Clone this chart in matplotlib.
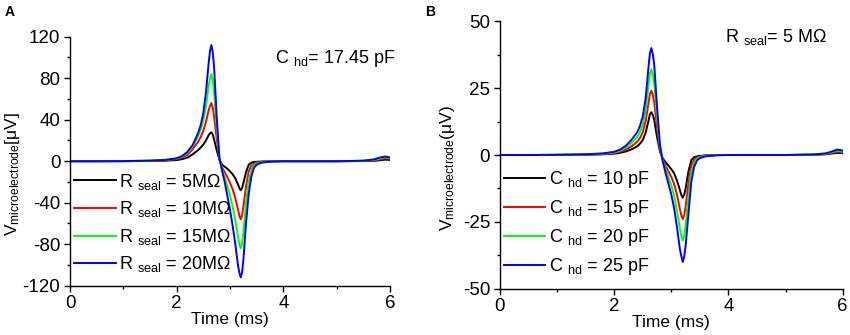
import matplotlib
matplotlib.use("Agg")
import matplotlib.pyplot as plt
from matplotlib.ticker import MultipleLocator

plt.rcParams['font.family'] = ['Liberation Sans', 'DejaVu Sans']
plt.rcParams['mathtext.fontset'] = 'custom'
plt.rcParams['mathtext.rm'] = 'Liberation Sans'
plt.rcParams['mathtext.it'] = 'Liberation Sans:italic'
plt.rcParams['mathtext.bf'] = 'Liberation Sans:bold'
plt.rcParams['axes.unicode_minus'] = False

# ---- data ----
time_ms = [0, 0.5, 1.0, 1.5, 1.8, 2.0, 2.1, 2.2, 2.3, 2.4,
           2.45, 2.5, 2.55, 2.6, 2.625, 2.65, 2.675, 2.7, 2.75, 2.8,
           2.85, 2.9, 2.95, 3.0, 3.05, 3.1, 3.15, 3.175, 3.2, 3.225,
           3.25, 3.3, 3.35, 3.4, 3.45, 3.5, 3.55, 3.6, 3.7, 3.8,
           4.0, 4.5, 5.0, 5.5, 5.7, 5.8, 5.85, 5.9, 5.95, 6.0]

# Panel A: R_seal varied (C_hd = 17.45 pF)
a_labels = ['5MΩ', '10MΩ', '15MΩ', '20MΩ']
a_rseal5 = [0, 0, 0.06, 0.2, 0.56, 1.1, 2.0, 3.4, 6.7, 10.6,
            13.2, 16.2, 20.2, 25.2, 26.9, 28, 25.8, 21, 10.6, 1.4,
            -3.4, -5.3, -7.3, -9.8, -12.6, -16.8, -22.4, -26, -28, -26,
            -21, -10.6, -3.4, -1.4, -0.8, -0.6, -0.4, -0.3, -0.15, 0,
            0, 0, 0, 0.15, 0.4, 0.8, 1.2, 1.5, 1.4, 1.2]
a_rseal10 = [0, 0, 0.1, 0.35, 0.95, 2.0, 3.5, 6.0, 11.6, 18.7,
             23.4, 29.5, 38.1, 49.4, 53.5, 56, 52, 43.3, 21.3, 2.4,
             -6.0, -10.5, -15.3, -20.9, -27.3, -35.8, -46.6, -52.6, -56, -52.6,
             -43.8, -24.1, -9.7, -4.3, -2.1, -1.3, -0.95, -0.6, -0.3, -0.05,
             0, 0, 0, 0.3, 0.85, 1.7, 2.2, 2.7, 2.6, 2.2]
a_rseal15 = [0, 0, 0.1, 0.5, 1.3, 2.5, 4.5, 7.8, 14.5, 24.1,
             30.5, 39.7, 53.8, 72.8, 79.8, 84, 78.5, 67.0, 31.9, 3.1,
             -7.8, -15.4, -24.1, -33.3, -43.9, -57.1, -72.8, -79.8, -84, -79.8,
             -68.6, -40.3, -19.1, -8.7, -3.9, -2.3, -1.5, -0.9, -0.5, -0.2,
             0, 0, 0, 0.4, 1.3, 2.5, 3.2, 3.8, 3.5, 2.9]
a_rseal20 = [0, 0, 0.1, 0.56, 1.3, 2.8, 5.0, 9.0, 15.7, 26.9,
             34.7, 47.0, 67.2, 95.2, 106.4, 112, 105.3, 91.8, 42.6, 3.4,
             -9.0, -20.2, -33.6, -47.0, -62.7, -80.6, -100.8, -107.5, -112, -107.5,
             -95.2, -59.4, -31.4, -14.6, -6.2, -3.4, -2.2, -1.3, -0.7, -0.3,
             0, 0, 0, 0.5, 1.7, 3.4, 3.9, 4.5, 4.3, 3.4]

# Panel B: C_hd varied (R_seal = 5 MOhm)
b_labels = ['10 pF', '15 pF', '20 pF', '25 pF']
b_chd10 = [0, 0, 0.03, 0.1, 0.24, 0.5, 0.8, 1.3, 2.1, 3.2,
           4.2, 5.6, 8.3, 12.8, 15.2, 16, 15.0, 13.1, 6.7, 1.3,
           -1.3, -2.7, -4.0, -5.3, -6.9, -9.6, -13.1, -15.0, -16, -14.9,
           -12.5, -6.1, -1.9, -0.8, -0.5, -0.3, -0.25, -0.15, -0.08, 0,
           0, 0, 0, 0.08, 0.25, 0.5, 0.65, 0.8, 0.75, 0.65]
b_chd15 = [0, 0, 0.05, 0.15, 0.36, 0.7, 1.2, 2.0, 3.2, 4.9,
           6.3, 8.5, 12.6, 19.4, 22.8, 24, 22.6, 19.9, 10.3, 2.1,
           -1.8, -4.1, -6.2, -8.2, -10.9, -15.0, -20.2, -22.6, -24, -22.5,
           -19.3, -10.5, -3.9, -1.7, -0.9, -0.55, -0.4, -0.26, -0.12, -0.02,
           0, 0, 0, 0.12, 0.36, 0.72, 0.96, 1.2, 1.15, 0.96]
b_chd20 = [0, 0, 0.06, 0.2, 0.48, 0.96, 1.6, 2.7, 4.4, 6.6,
           8.5, 11.4, 16.9, 26.0, 30.4, 32, 30.2, 26.9, 14.1, 3.0,
           -2.1, -5.4, -8.4, -11.4, -15.3, -20.9, -27.5, -30.2, -32, -30.2,
           -26.5, -15.8, -6.6, -2.9, -1.4, -0.86, -0.58, -0.35, -0.19, -0.06,
           0, 0, 0, 0.16, 0.48, 0.96, 1.28, 1.6, 1.5, 1.28]
b_chd25 = [0, 0, 0.08, 0.25, 0.6, 1.2, 2.0, 3.4, 5.6, 8.4,
           10.8, 14.4, 21.2, 32.8, 38, 40, 37.8, 34, 18, 4,
           -2.4, -6.8, -10.8, -14.8, -20, -27.2, -35.2, -37.8, -40, -38,
           -34, -22, -10, -4.4, -2, -1.2, -0.8, -0.5, -0.25, -0.1,
           0, 0, 0, 0.2, 0.6, 1.2, 1.6, 2.0, 1.9, 1.6]

colors = ['#000000', '#ff0000', '#00ff00', '#0000ff']

fig = plt.figure(figsize=(8.5, 3.35), dpi=100)
axA = fig.add_axes([0.0824, 0.1472, 0.3765, 0.7432])
axB = fig.add_axes([0.5882, 0.1382, 0.4032, 0.7982])

FS = 12.5
TFS = 13.5
LFS = 13


def style(ax):
    for s in ['top', 'right']:
        ax.spines[s].set_visible(False)
    for s in ['left', 'bottom']:
        ax.spines[s].set_linewidth(1.0)
    ax.tick_params(which='major', direction='out', length=4.5, width=1.0,
                   labelsize=TFS, pad=2.5)
    ax.tick_params(which='minor', direction='out', length=2.5, width=1.0)
    ax.set_xlim(0, 6)
    ax.xaxis.set_major_locator(MultipleLocator(2))
    ax.xaxis.set_minor_locator(MultipleLocator(1))
    ax.set_xlabel('Time (ms)', fontsize=FS, labelpad=0)


# Panel A
style(axA)
for vals, lab, c in zip([a_rseal5, a_rseal10, a_rseal15, a_rseal20], a_labels, colors):
    axA.plot(time_ms, vals, color=c, lw=1.4,
             label=r'R $_{\mathregular{seal}}$ = ' + lab)
axA.set_ylim(-120, 120)
axA.yaxis.set_major_locator(MultipleLocator(40))
axA.yaxis.set_minor_locator(MultipleLocator(20))
axA.set_ylabel(r'V$_{\mathregular{microelectrode}}$[μV]', fontsize=FS)
axA.yaxis.set_label_coords(-0.15, 0.45)
axA.legend(loc='lower left', bbox_to_anchor=(-0.01, 0.016), frameon=False,
           fontsize=LFS, handlelength=2.3, handletextpad=0.2, labelspacing=0.42,
           borderaxespad=0.0)
axA.text(0.64, 0.914, r'C $_{\mathregular{hd}}$= 17.45 pF', transform=axA.transAxes,
         fontsize=LFS, ha='left', va='center')
fig.text(0.006, 0.965, 'A', fontsize=10, fontweight='bold', ha='left', va='center')

# Panel B
style(axB)
for vals, lab, c in zip([b_chd10, b_chd15, b_chd20, b_chd25], b_labels, colors):
    axB.plot(time_ms, vals, color=c, lw=1.4,
             label=r'C $_{\mathregular{hd}}$ = ' + lab)
axB.set_ylim(-50, 50)
axB.yaxis.set_major_locator(MultipleLocator(25))
axB.yaxis.set_minor_locator(MultipleLocator(12.5))
axB.set_ylabel(r'V$_{\mathregular{microelectrode}}$(μV)', fontsize=FS)
axB.yaxis.set_label_coords(-0.125, 0.45)
axB.legend(loc='lower left', bbox_to_anchor=(-0.01, 0.015), frameon=False,
           fontsize=LFS, handlelength=2.3, handletextpad=0.2, labelspacing=0.45,
           borderaxespad=0.0)
axB.text(0.657, 0.941, r'R $_{\mathregular{seal}}$= 5 MΩ', transform=axB.transAxes,
         fontsize=LFS, ha='left', va='center')
fig.text(0.5, 0.965, 'B', fontsize=10, fontweight='bold', ha='left', va='center')

fig.savefig('out.png', dpi=100)
